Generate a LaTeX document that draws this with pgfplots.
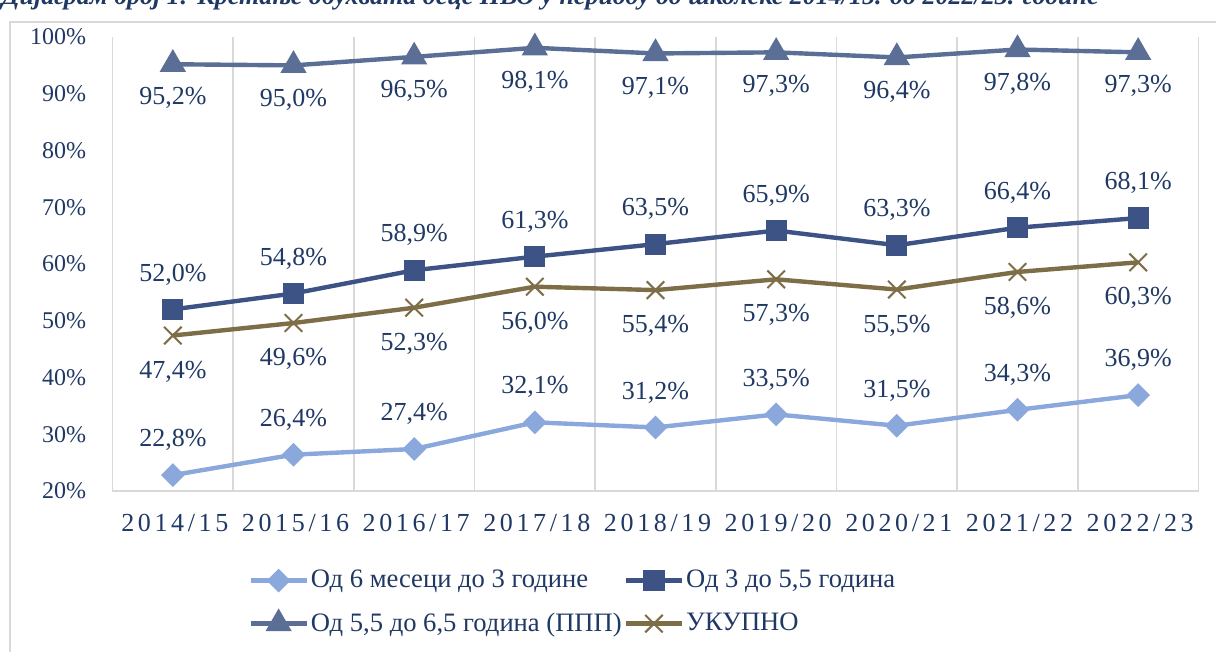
\documentclass[border=0pt]{standalone}
\usepackage{fontspec}
\setmainfont{Liberation Serif}
\newfontfamily\spaced[LetterSpace=14]{Liberation Serif}
\usepackage{pgfplots}
\pgfplotsset{compat=1.18}

\definecolor{txt}{HTML}{1F3864}
\definecolor{gridc}{HTML}{D9D9D9}
\definecolor{cA}{HTML}{8AA8DC}
\definecolor{cB}{HTML}{3E5385}
\definecolor{cC}{HTML}{5A6E96}
\definecolor{cD}{HTML}{7E6E47}

\begin{document}
\begin{tikzpicture}
\begin{axis}[
    at={(0,0)}, anchor=south west,
    scale only axis,
    width=543pt, height=227pt,
    xmin=-0.5, xmax=8.5,
    ymin=20, ymax=100,
    clip=false,
    xtick={0,...,8},
    xticklabels={2014/15,2015/16,2016/17,2017/18,2018/19,2019/20,2020/21,2021/22,2022/23},
    ytick={20,30,...,100},
    yticklabels={20\%,30\%,40\%,50\%,60\%,70\%,80\%,90\%,100\%},
    minor xtick={-0.5,0.5,...,8.5},
    xminorgrids=true,
    minor grid style={gridc, line width=0.9pt},
    major tick length=0pt, minor tick length=0pt,
    axis x line*=bottom, axis y line*=left,
    x axis line style={-, draw=gridc, line width=0.9pt},
    y axis line style={draw=none},
    xticklabel style={font=\fontsize{13}{15}\selectfont\spaced, text=txt, anchor=center, yshift=-16pt, xshift=1pt},
    yticklabel style={font=\fontsize{12}{14}\selectfont, text=txt, inner sep=0pt, anchor=east, xshift=-13pt},
    nodes near coords={\pgfmathprintnumber[fixed,fixed zerofill,precision=1,use comma,assume math mode=true]{\pgfplotspointmeta}\%},
    every node near coord/.append style={font=\fontsize{13}{15}\selectfont, text=txt, anchor=center},
    legend columns=2,
    legend cell align=left,
    legend style={draw=none, at={(0.1248,-0.165)}, anchor=north west, inner sep=0pt,
        font=\fontsize{13.3}{15}\selectfont, text=txt, row sep=7pt,
        nodes={inner xsep=1pt},
        /tikz/every even column/.append style={column sep=0pt}},
    legend image code/.code={\draw[mark repeat=2,mark phase=2,#1] plot coordinates {(0pt,0pt)(14pt,0pt)(28pt,0pt)};},
]

% Од 6 месеци до 3 године
\addplot[cA, line width=2.2pt, mark=square*, mark size=3.1pt, mark options={rotate=45, solid},
    every node near coord/.append style={yshift=17.5pt}]
coordinates {(0,22.8)(1,26.4)(2,27.4)(3,32.1)(4,31.2)(5,33.5)(6,31.5)(7,34.3)(8,36.9)};
\addlegendentry{Од 6 месеци до 3 године}

% Од 3 до 5,5 година
\addplot[cB, line width=2.2pt, mark=square*, mark size=4.2pt,
    every node near coord/.append style={yshift=17.5pt}]
coordinates {(0,52.0)(1,54.8)(2,58.9)(3,61.3)(4,63.5)(5,65.9)(6,63.3)(7,66.4)(8,68.1)};
\addlegendentry{Од 3 до 5,5 година}

% Од 5,5 до 6,5 година (ППП)
\addplot[cC, line width=2.2pt, mark=triangle*, mark size=5.4pt,
    every node near coord/.append style={yshift=-17pt}]
coordinates {(0,95.2)(1,95.0)(2,96.5)(3,98.1)(4,97.1)(5,97.3)(6,96.4)(7,97.8)(8,97.3)};
\addlegendentry{Од 5,5 до 6,5 година (ППП)}

% УКУПНО
\addplot[cD, line width=2.2pt, mark=x, mark size=6.2pt, mark options={line width=1pt},
    every node near coord/.append style={yshift=-18pt}]
coordinates {(0,47.4)(1,49.6)(2,52.3)(3,56.0)(4,55.4)(5,57.3)(6,55.5)(7,58.6)(8,60.3)};
\addlegendentry{УКУПНО}

\end{axis}

% outer chart frame
\draw[gridc, line width=0.75pt] (-51.25pt,-90pt) -- (-51.25pt,234.5pt) -- (560pt,234.5pt);

% caption, cut by the page edge
\node[anchor=base west, inner sep=0pt, text=txt, font=\fontsize{13}{15}\selectfont\bfseries\itshape]
  at (-55.5pt,243.3pt) {Дијаграм број 1: Кретање обухвата деце ПВО у периоду од школске 2014/15. до 2022/23. године};

\pgfresetboundingbox
\path[use as bounding box] (-56.25pt,-80.5pt) rectangle (551.75pt,245.5pt);
\end{tikzpicture}
\end{document}
